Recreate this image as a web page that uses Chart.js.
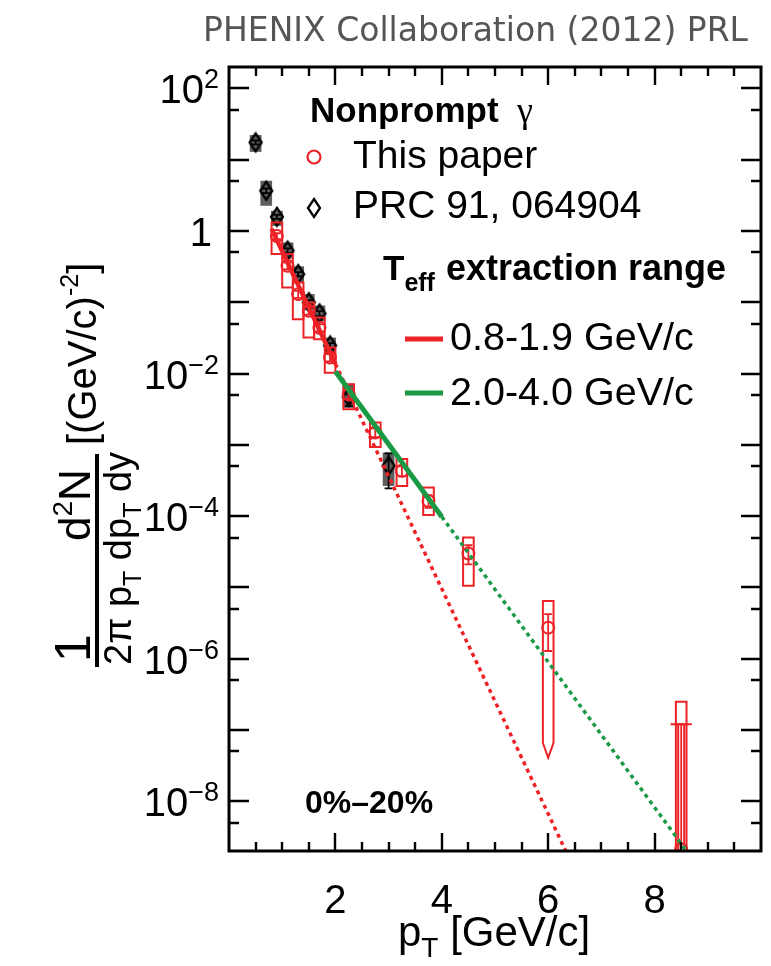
<!DOCTYPE html>
<html>
<head>
<meta charset="utf-8">
<script src="https://cdn.jsdelivr.net/npm/chart.js@4.4.1/dist/chart.umd.min.js"></script>
<style>
  html, body { margin: 0; padding: 0; background: #ffffff; }
  #wrap { position: relative; width: 771px; height: 966px; }
</style>
</head>
<body>
<div id="wrap"><canvas id="c" width="771" height="966"></canvas></div>
<script>
// ---- Nonprompt photon invariant yield, Au+Au 0%-20% ----
// This measurement
const ptThis     = [0.9, 1.1, 1.3, 1.5, 1.7, 1.9, 2.25, 2.75, 3.25, 3.75, 4.5, 6.0, 8.5];
const yieldThis  = [0.85, 0.325, 0.130, 0.076, 0.044, 0.0168, 5.1e-3, 1.49e-3, 4.31e-4, 1.63e-4, 2.98e-5, 2.72e-6, 2.1e-9];
const statHiThis = [0.93, 0.36, 0.145, 0.085, 0.049, 0.0188, 5.8e-3, 1.7e-3, 5.0e-4, 1.95e-4, 3.9e-5, 4.2e-6, 1.2e-7];
const statLoThis = [0.77, 0.29, 0.115, 0.067, 0.039, 0.0148, 4.4e-3, 1.28e-3, 3.6e-4, 1.31e-4, 2.1e-5, 1.28e-6, 1e-9];
const sysHiThis  = [1.32, 0.474, 0.189, 0.099, 0.061, 0.0232, 7.1e-3, 2.05e-3, 6.35e-4, 2.51e-4, 4.99e-5, 6.46e-6, 2.49e-7];
const sysLoThis  = [0.474, 0.161, 0.058, 0.032, 0.0304, 0.0103, 3.16e-3, 9.35e-4, 2.65e-4, 1.04e-4, 1.05e-5, 6.6e-8, 1e-9];
// lower systematic edge that continues as a downward limit
const sysLimitThis = [null, null, null, null, null, null, null, null, null, null, null, 4.07e-8, null];

// PRC 91, 064904
const ptPrc     = [0.5, 0.7, 0.9, 1.1, 1.3, 1.5, 1.7, 1.9, 2.25, 3.0];
const yieldPrc  = [17.5, 3.67, 1.58, 0.53, 0.248, 0.100, 0.0695, 0.0247, 4.7e-3, 5.07e-4];
const statHiPrc = [18.6, 3.95, 1.68, 0.57, 0.265, 0.107, 0.075, 0.0268, 5.1e-3, 7.6e-4];
const statLoPrc = [16.4, 3.40, 1.48, 0.49, 0.231, 0.093, 0.064, 0.0226, 3.5e-3, 2.45e-4];
const sysHiPrc  = [22.2, 5.07, 1.92, 0.69, 0.32, 0.13, 0.09, 0.032, 7.2e-3, 7.8e-4];
const sysLoPrc  = [12.9, 2.26, 1.18, 0.41, 0.19, 0.077, 0.054, 0.019, 3.3e-3, 2.65e-4];

// Exponential fits (T_eff extraction), fitted range and extrapolation
const fitLowPt      = [0.8, 2.0];
const fitLowYield   = [1.07, 0.0137];
const fitLowExtPt   = [2.0, 6.33];
const fitLowExtY    = [0.0137, 2e-9];
const fitHighPt     = [2.0, 4.0];
const fitHighYield  = [0.0107, 9.8e-5];
const fitHighExtPt  = [4.0, 8.6];
const fitHighExtY   = [9.8e-5, 2e-9];

// Axes
const xRange = [0, 10];
const yRange = [2e-9, 200];
const xLabelTicks = [2, 4, 6, 8];
const yLabelExponents = [2, 0, -2, -4, -6, -8];

const RED = '#ec2227';
const GREEN = '#1b9a45';
const GREY_BOX = '#5e5e5e';
const SANS = '"Liberation Sans", Arial, Helvetica, sans-serif';

const pts = (xs, ys) => xs.map((x, i) => ({ x: x, y: ys[i] }));

function diamondGlyph(w, h, lw) {
  const c = document.createElement('canvas');
  c.width = w + 2 * lw + 2; c.height = h + 2 * lw + 2;
  const g = c.getContext('2d');
  const cx = c.width / 2, cy = c.height / 2;
  g.strokeStyle = '#000'; g.lineWidth = lw; g.lineJoin = 'miter';
  g.beginPath();
  g.moveTo(cx, cy - h / 2); g.lineTo(cx + w / 2, cy);
  g.lineTo(cx, cy + h / 2); g.lineTo(cx - w / 2, cy);
  g.closePath(); g.stroke();
  return c;
}
const diamond = diamondGlyph(12, 18, 2.3);

// systematic boxes and error bars
function drawBars(chart, xs, ys, hi, lo, sHi, sLo, opt) {
  const { ctx, chartArea: a, scales: { x: sx, y: sy } } = chart;
  ctx.save();
  ctx.beginPath(); ctx.rect(a.left, a.top, a.right - a.left, a.bottom - a.top); ctx.clip();
  xs.forEach((x, i) => {
    const px = sx.getPixelForValue(x);
    const xl = sx.getPixelForValue(x - opt.halfW), xr = sx.getPixelForValue(x + opt.halfW);
    const yt = sy.getPixelForValue(sHi[i]);
    const yb = sy.getPixelForValue(sLo[i]);
    if (opt.fill) {
      ctx.fillStyle = opt.fill;
      ctx.fillRect(xl, yt, xr - xl, yb - yt);
    } else {
      ctx.strokeStyle = opt.color; ctx.lineWidth = 2;
      ctx.beginPath();
      const lim = opt.limit && opt.limit[i];
      if (lim) {
        const ytip = sy.getPixelForValue(lim);
        ctx.moveTo(xl, yb); ctx.lineTo(xl, yt); ctx.lineTo(xr, yt); ctx.lineTo(xr, yb);
        ctx.lineTo(px, ytip); ctx.closePath();
      } else {
        ctx.rect(xl, yt, xr - xl, yb - yt);
      }
      ctx.stroke();
    }
    // statistical bar
    const h = sy.getPixelForValue(hi[i]), l = sy.getPixelForValue(lo[i]);
    ctx.strokeStyle = opt.barColor; ctx.lineWidth = 1.8;
    ctx.beginPath();
    ctx.moveTo(px, h); ctx.lineTo(px, l);
    ctx.moveTo(px - opt.cap, h); ctx.lineTo(px + opt.cap, h);
    ctx.moveTo(px - opt.cap, l); ctx.lineTo(px + opt.cap, l);
    ctx.stroke();
  });
  ctx.restore();
}

const boxesPlugin = {
  id: 'boxes',
  beforeDatasetsDraw(chart) {
    drawBars(chart, ptPrc, yieldPrc, statHiPrc, statLoPrc, sysHiPrc, sysLoPrc,
      { halfW: 0.11, fill: GREY_BOX, barColor: '#000', cap: 4 });
  },
  afterDatasetDraw(chart, args) {
    if (args.index !== 5) return;
    drawBars(chart, ptThis, yieldThis, statHiThis, statLoThis, sysHiThis, sysLoThis,
      { halfW: 0.1, color: RED, barColor: RED, cap: 4, limit: sysLimitThis });
    // widened marker of the last (low-significance) bin
    const { ctx, scales: { x: sx, y: sy } } = chart;
    const i = ptThis.length - 1;
    const px = sx.getPixelForValue(ptThis[i]);
    const py = sy.getPixelForValue(statHiThis[i]);
    ctx.save();
    ctx.strokeStyle = RED; ctx.lineWidth = 2;
    ctx.beginPath();
    ctx.moveTo(sx.getPixelForValue(ptThis[i] - 0.2), py); ctx.lineTo(sx.getPixelForValue(ptThis[i] + 0.2), py);
    ctx.moveTo(px - 3, py); ctx.lineTo(px - 3, chart.chartArea.bottom);
    ctx.moveTo(px + 3, py); ctx.lineTo(px + 3, chart.chartArea.bottom);
    ctx.stroke();
    ctx.restore();
  }
};

function supText(ctx, base, sup, x, y, size, supSize, raise, align) {
  ctx.font = size + 'px ' + SANS;
  const wb = ctx.measureText(base).width;
  ctx.font = supSize + 'px ' + SANS;
  const ws = ctx.measureText(sup).width;
  let x0 = align === 'right' ? x - wb - ws : x;
  ctx.textAlign = 'left';
  ctx.font = size + 'px ' + SANS;
  ctx.fillText(base, x0, y);
  ctx.font = supSize + 'px ' + SANS;
  ctx.fillText(sup, x0 + wb, y - raise);
  return x0 + wb + ws;
}

// run of text pieces: [text, size, baseline shift, bold]
function textRun(ctx, pieces, u, v) {
  pieces.forEach(([t, s, dv, b]) => {
    ctx.font = (b ? 'bold ' : '') + s + 'px ' + SANS;
    ctx.fillText(t, u, v + dv);
    u += ctx.measureText(t).width;
  });
  return u;
}

const framePlugin = {
  id: 'frame',
  afterDraw(chart) {
    const { ctx, chartArea: a, scales: { x: sx, y: sy } } = chart;
    ctx.save();
    ctx.strokeStyle = '#000';
    ctx.lineWidth = 2.4;
    ctx.beginPath();
    // x ticks, inward on both sides
    for (let v = xRange[0] + 0.5; v < xRange[1] - 1e-6; v += 0.5) {
      const px = Math.round(sx.getPixelForValue(v));
      const len = Math.abs(v % 2) < 1e-6 ? 18 : 9;
      ctx.moveTo(px, a.bottom); ctx.lineTo(px, a.bottom - len);
      ctx.moveTo(px, a.top); ctx.lineTo(px, a.top + len);
    }
    // y ticks at each decade and at 5 x decade
    for (let e = -9; e <= 2; e++) {
      [[Math.pow(10, e), 20], [5 * Math.pow(10, e), 10]].forEach(([v, len]) => {
        if (v <= yRange[0] || v >= yRange[1]) return;
        const py = Math.round(sy.getPixelForValue(v));
        ctx.moveTo(a.left, py); ctx.lineTo(a.left + len, py);
        ctx.moveTo(a.right, py); ctx.lineTo(a.right - len, py);
      });
    }
    ctx.stroke();
    ctx.lineWidth = 3;
    ctx.strokeRect(a.left, a.top, a.right - a.left, a.bottom - a.top);

    // tick labels
    ctx.fillStyle = '#000';
    ctx.textBaseline = 'alphabetic';
    ctx.font = '40px ' + SANS;
    ctx.textAlign = 'center';
    xLabelTicks.forEach(v => ctx.fillText(String(v), sx.getPixelForValue(v), 913));
    yLabelExponents.forEach(e => {
      const py = sy.getPixelForValue(Math.pow(10, e));
      if (e === 0) {
        ctx.font = '40px ' + SANS; ctx.textAlign = 'right';
        ctx.fillText('1', 212, py + 15);
      } else {
        supText(ctx, '10', e < 0 ? '\u2212' + (-e) : String(e), 219, py + 15, 40, 27, 15, 'right');
      }
    });

    // x title
    ctx.textAlign = 'left';
    textRun(ctx, [['p', 42, 0], ['T', 28, 11], [' [GeV/c]', 42, 0]], 398, 946);

    // y title, rotated: (u, v) in text frame -> image (v, 966 - u)
    ctx.save();
    ctx.translate(0, 966);
    ctx.rotate(-Math.PI / 2);
    ctx.lineWidth = 4;
    ctx.beginPath(); ctx.moveTo(299, 97); ctx.lineTo(512, 97); ctx.stroke();
    ctx.font = '50px ' + SANS; ctx.fillText('1', 304, 90);
    textRun(ctx, [['d', 44, 0], ['2', 28, -18], ['N', 44, 0]], 425, 90);
    textRun(ctx, [['2\u03c0 p', 38, 0], ['T', 25, 10], [' dp', 38, 0], ['T', 25, 10], [' dy', 38, 0]], 301, 131);
    textRun(ctx, [['[(GeV/c)', 40, 0], ['-2', 25, -18], [']', 40, 0]], 521, 96);
    ctx.restore();

    // header
    ctx.fillStyle = '#555555';
    ctx.font = '33px "DejaVu Sans", sans-serif';
    ctx.textAlign = 'right';
    ctx.fillText('PHENIX Collaboration (2012) PRL', 748, 41);

    // legend
    ctx.fillStyle = '#000';
    ctx.textAlign = 'left';
    ctx.font = 'bold 35px ' + SANS;
    ctx.fillText('Nonprompt', 310, 122);
    ctx.font = '36px "Liberation Serif", serif';
    ctx.fillText('\u03b3', 517, 122);
    ctx.strokeStyle = RED; ctx.lineWidth = 2.2;
    ctx.beginPath(); ctx.arc(314, 157, 6.5, 0, Math.PI * 2); ctx.stroke();
    ctx.drawImage(diamond, 314 - diamond.width / 2, 208 - diamond.height / 2);
    ctx.font = '39px ' + SANS;
    ctx.fillText('This paper', 353, 168);
    ctx.fillText('PRC 91, 064904', 353, 218);
    textRun(ctx, [['T', 35, 0, true], ['eff', 25, 11, true]], 383, 280);
    ctx.font = 'bold 36px ' + SANS;
    ctx.fillText('extraction range', 446, 280);
    ctx.lineWidth = 5;
    ctx.strokeStyle = RED;
    ctx.beginPath(); ctx.moveTo(405, 339); ctx.lineTo(443, 339); ctx.stroke();
    ctx.strokeStyle = GREEN;
    ctx.beginPath(); ctx.moveTo(405, 393); ctx.lineTo(443, 393); ctx.stroke();
    ctx.font = '39.5px ' + SANS;
    ctx.fillText('0.8-1.9 GeV/c', 450, 350);
    ctx.fillText('2.0-4.0 GeV/c', 450, 405);
    ctx.font = 'bold 32px ' + SANS;
    ctx.fillText('0%\u201320%', 305, 813);
    ctx.restore();
  }
};

new Chart(document.getElementById('c'), {
  type: 'scatter',
  data: {
    datasets: [
      { type: 'line', data: pts(fitLowPt, fitLowYield), borderColor: RED, borderWidth: 4.5, pointRadius: 0, showLine: true },
      { type: 'line', data: pts(fitHighPt, fitHighYield), borderColor: GREEN, borderWidth: 5, pointRadius: 0, showLine: true },
      { type: 'line', data: pts(fitLowExtPt, fitLowExtY), borderColor: RED, borderWidth: 3.5, borderDash: [4, 4], pointRadius: 0, showLine: true },
      { type: 'line', data: pts(fitHighExtPt, fitHighExtY), borderColor: GREEN, borderWidth: 3.5, borderDash: [4, 4], pointRadius: 0, showLine: true },
      { label: 'This paper', data: pts(ptThis, yieldThis), pointStyle: 'circle', pointRadius: 6, borderColor: RED, borderWidth: 2, backgroundColor: 'rgba(0,0,0,0)' },
      { label: 'PRC 91, 064904', data: pts(ptPrc, yieldPrc), pointStyle: diamond, pointRadius: 9 }
    ]
  },
  options: {
    responsive: false,
    animation: false,
    devicePixelRatio: 1,
    layout: { padding: { top: 67, right: 9, left: 0, bottom: 0 } },
    plugins: { legend: { display: false }, tooltip: { enabled: false } },
    scales: {
      x: {
        type: 'linear', min: xRange[0], max: xRange[1],
        grid: { display: false }, border: { display: false },
        ticks: { display: false },
        afterFit(s) { s.height = 115; }
      },
      y: {
        type: 'logarithmic', min: yRange[0], max: yRange[1],
        grid: { display: false }, border: { display: false },
        ticks: { display: false },
        afterFit(s) { s.width = 229; }
      }
    }
  },
  plugins: [boxesPlugin, framePlugin]
});
</script>
</body>
</html>
